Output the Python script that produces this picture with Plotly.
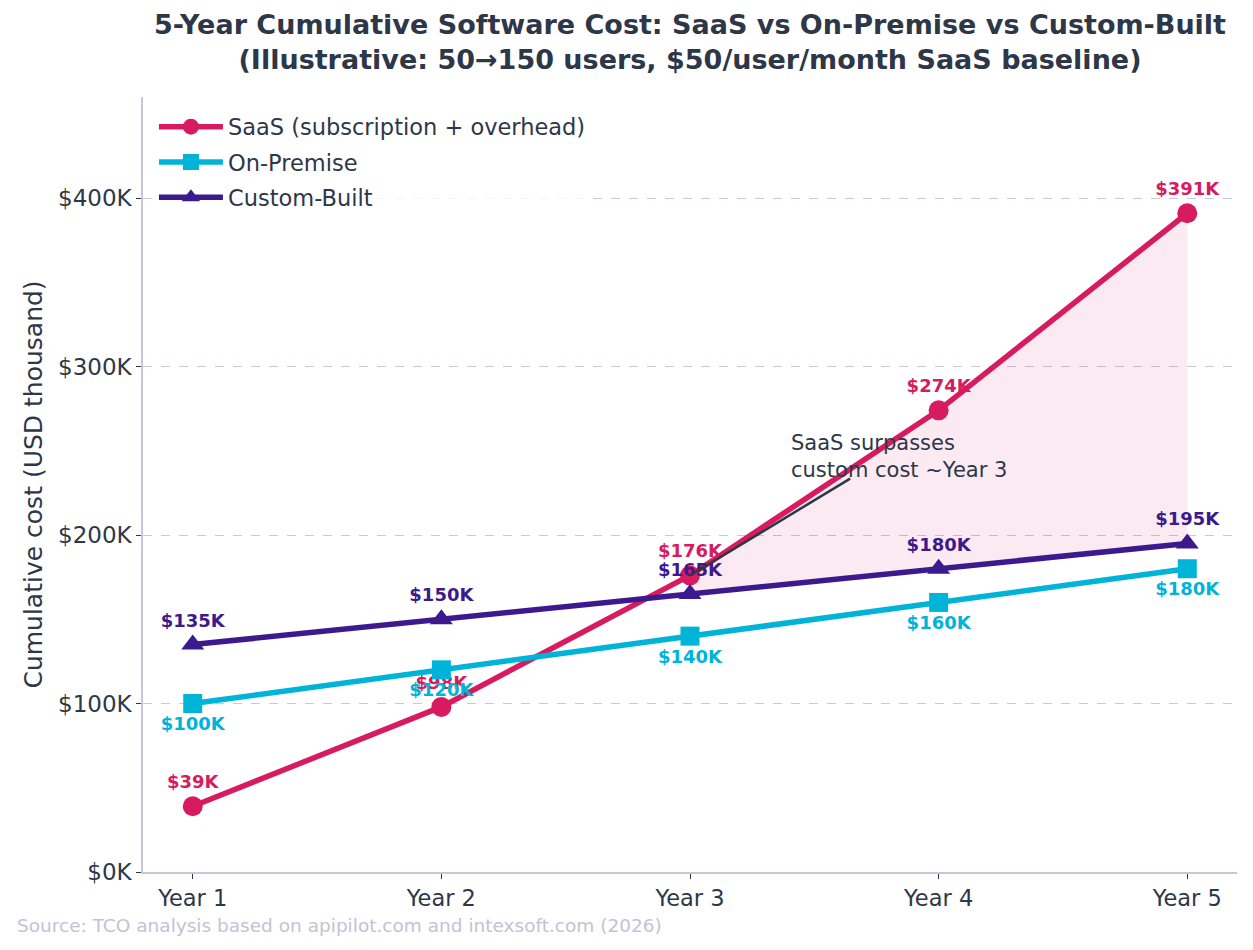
import plotly.graph_objects as go

years = ["Year 1", "Year 2", "Year 3", "Year 4", "Year 5"]
saas = [39, 98, 176, 274, 391]
onprem = [100, 120, 140, 160, 180]
custom = [135, 150, 165, 180, 195]
y_ticks = [0, 100, 200, 300, 400]

C_SAAS = "#d81b60"
C_ONP = "#00b4d8"
C_CUS = "#3c1a8e"
TXT = "#2d3748"
FONT = "DejaVu Sans"

x = list(range(len(years)))

fig = go.Figure()

# shaded area where SaaS exceeds custom-built
idx = [i for i in x if saas[i] >= custom[i]]
fig.add_trace(go.Scatter(x=idx, y=[custom[i] for i in idx], mode="lines",
                         line=dict(width=0), showlegend=False, hoverinfo="skip", legendgroup="z0"))
fig.add_trace(go.Scatter(x=idx, y=[saas[i] for i in idx], mode="lines",
                         line=dict(width=0), fill="tonexty",
                         fillcolor="rgba(216,27,96,0.09)", showlegend=False, hoverinfo="skip", legendgroup="z0"))

def lab(v):
    return [f"${a}K" for a in v]

LBL = 18
fig.add_trace(go.Scatter(x=x, y=saas, name="SaaS (subscription + overhead)", legendgroup="a",
                         mode="lines+markers+text", text=lab(saas), textposition="top center",
                         textfont=dict(color=C_SAAS, size=LBL, family=FONT, weight="bold"),
                         line=dict(color=C_SAAS, width=5.5),
                         marker=dict(symbol="circle", size=20, color=C_SAAS)))
fig.add_trace(go.Scatter(x=x, y=onprem, name="On-Premise", legendgroup="b",
                         mode="lines+markers+text", text=lab(onprem), textposition="bottom center",
                         textfont=dict(color=C_ONP, size=LBL, family=FONT, weight="bold"),
                         line=dict(color=C_ONP, width=5.5),
                         marker=dict(symbol="square", size=19, color=C_ONP)))
fig.add_trace(go.Scatter(x=x, y=custom, name="Custom-Built", legendgroup="c",
                         mode="lines+markers+text", text=lab(custom), textposition="top center",
                         textfont=dict(color=C_CUS, size=LBL, family=FONT, weight="bold"),
                         line=dict(color=C_CUS, width=5.5),
                         marker=dict(symbol="triangle-up", size=20, color=C_CUS)))

# annotation arrow
fig.add_annotation(x=2, y=saas[2], ax=2.65, ay=234, xref="x", yref="y", axref="x", ayref="y",
                   text="", showarrow=True, arrowhead=0, arrowwidth=2.5, arrowcolor=TXT, standoff=0)
fig.add_annotation(x=2.4, y=263, xref="x", yref="y", text="SaaS surpasses<br>custom cost ~Year 3",
                   showarrow=False, xanchor="left", yanchor="top", align="left",
                   font=dict(size=21, color=TXT, family=FONT))

fig.add_annotation(x=(15 - 143) / 1094, y=(872 - 926) / 775, xref="paper", yref="paper",
                   text="Source: TCO analysis based on apipilot.com and intexsoft.com (2026)",
                   showarrow=False, xanchor="left", yanchor="middle",
                   font=dict(size=18.5, color="#c4c2d4", family=FONT))

# title
fig.add_annotation(x=0.5, y=(872 - 42) / 775, xref="paper", yref="paper",
                   text="<b>5-Year Cumulative Software Cost: SaaS vs On-Premise vs Custom-Built<br>(Illustrative: 50→150 users, $50/user/month SaaS baseline)</b>",
                   showarrow=False, xanchor="center", yanchor="middle", align="center",
                   font=dict(size=27, color=TXT, family=FONT))

fig.update_layout(
    width=1253, height=950,
    margin=dict(l=143, r=16, t=97, b=78),
    paper_bgcolor="white", plot_bgcolor="white",
    font=dict(family=FONT, color=TXT),
    legend=dict(x=0.01, y=0.989, xanchor="left", yanchor="top", bgcolor="rgba(255,255,255,0.8)",
                font=dict(size=22.5, color=TXT, family=FONT), tracegroupgap=3, itemwidth=64,
                traceorder="grouped"),
    showlegend=True,
)

fig.update_xaxes(range=[-0.2, 4.2], tickvals=x, ticktext=years, showgrid=False,
                 showline=True, linecolor="#c8c6d8", linewidth=1.5, ticks="outside",
                 ticklen=5, tickcolor="#2d3748", tickfont=dict(size=22.5, color=TXT, family=FONT),
                 zeroline=False)
fig.update_yaxes(range=[0, 460], tickvals=y_ticks, ticktext=[f"${v}K" for v in y_ticks],
                 showgrid=True, gridcolor="#cbc6dc", griddash="dash", gridwidth=0.8,
                 showline=True, linecolor="#c8c6d8", linewidth=1.5, ticks="outside",
                 ticklen=5, tickcolor="#2d3748", tickfont=dict(size=23, color=TXT, family=FONT),
                 title=dict(text="Cumulative cost (USD thousand)", font=dict(size=25, color=TXT, family=FONT), standoff=8),
                 zeroline=False)

fig.write_html("out.html")
